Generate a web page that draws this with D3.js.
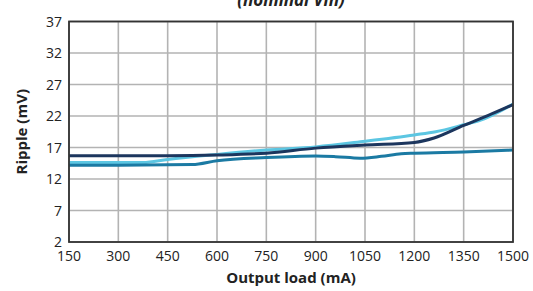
<!DOCTYPE html>
<html>
<head>
<meta charset="utf-8">
<script src="https://cdn.jsdelivr.net/npm/d3@7"></script>
<style>
  body { margin: 0; background: #fff; }
  text { font-family: "Open Sans", sans-serif; fill: #222; }
</style>
</head>
<body>
<script>
var W = 533, H = 291;
var margin = {top: 21.5, right: 20, bottom: 49, left: 69};

// data (mA -> mV)
var loadNavy  = [150, 300, 450, 600, 750, 900, 1050, 1200, 1260, 1350, 1425, 1500];
var rippleNavy = [15.7, 15.7, 15.7, 15.8, 16.1, 16.9, 17.4, 17.8, 18.5, 20.5, 22.1, 23.8];

var loadCyan  = [150, 375, 450, 600, 750, 900, 1050, 1200, 1265, 1350, 1400, 1500];
var rippleCyan = [14.6, 14.6, 15.1, 15.9, 16.6, 17.1, 18.0, 19.0, 19.5, 20.6, 21.3, 23.9];

var loadTeal  = [150, 300, 525, 600, 750, 900, 960, 1035, 1100, 1160, 1200, 1350, 1500];
var rippleTeal = [14.2, 14.2, 14.3, 14.9, 15.4, 15.65, 15.55, 15.3, 15.6, 16.0, 16.1, 16.3, 16.6];

var xTicks = [150, 300, 450, 600, 750, 900, 1050, 1200, 1350, 1500];
var yTicks = [2, 7, 12, 17, 22, 27, 32, 37];

var series = [
  {name: "cyan", color: "#5cc6e2", x: loadCyan, y: rippleCyan},
  {name: "teal", color: "#1b7aa3", x: loadTeal, y: rippleTeal},
  {name: "navy", color: "#1c365e", x: loadNavy, y: rippleNavy}
];

var svg = d3.select("body").append("svg")
    .attr("width", W)
    .attr("height", H);

var x = d3.scaleLinear().domain([150, 1500]).range([margin.left, W - margin.right]);
var y = d3.scaleLinear().domain([2, 37]).range([H - margin.bottom, margin.top]);

// grid
svg.append("g")
  .selectAll("line.vg")
  .data(xTicks)
  .enter().append("line")
    .attr("x1", function(d) { return x(d); })
    .attr("x2", function(d) { return x(d); })
    .attr("y1", y(2))
    .attr("y2", y(37))
    .style("stroke", "#b3b3b3")
    .style("stroke-width", 1.6);

svg.append("g")
  .selectAll("line.hg")
  .data(yTicks)
  .enter().append("line")
    .attr("x1", x(150))
    .attr("x2", x(1500))
    .attr("y1", function(d) { return y(d); })
    .attr("y2", function(d) { return y(d); })
    .style("stroke", "#b3b3b3")
    .style("stroke-width", 1.6);

// lines
var line = d3.line()
  .x(function(d) { return x(d[0]); })
  .y(function(d) { return y(d[1]); })
  .curve(d3.curveMonotoneX);

svg.append("g")
  .selectAll("path")
  .data(series)
  .enter().append("path")
    .attr("d", function(s) { return line(d3.zip(s.x, s.y)); })
    .style("fill", "none")
    .style("stroke", function(s) { return s.color; })
    .style("stroke-width", 3);

// frame
svg.append("rect")
  .attr("x", x(150))
  .attr("y", y(37))
  .attr("width", x(1500) - x(150))
  .attr("height", y(2) - y(37))
  .style("fill", "none")
  .style("stroke", "#333")
  .style("stroke-width", 1.8);

// tick labels
svg.append("g")
  .selectAll("text")
  .data(xTicks)
  .enter().append("text")
    .attr("x", function(d) { return x(d); })
    .attr("y", 260.5)
    .attr("text-anchor", "middle")
    .style("font-size", "14px")
    .text(function(d) { return d; });

svg.append("g")
  .selectAll("text")
  .data(yTicks)
  .enter().append("text")
    .attr("x", 62)
    .attr("y", function(d) { return y(d) + 5; })
    .attr("text-anchor", "end")
    .style("font-size", "14px")
    .text(function(d) { return d; });

// axis titles
svg.append("text")
  .attr("x", (x(150) + x(1500)) / 2)
  .attr("y", 283)
  .attr("text-anchor", "middle")
  .style("font-size", "15px")
  .style("font-weight", "bold")
  .text("Output load (mA)");

svg.append("text")
  .attr("transform", "translate(27," + (y(2) + y(37)) / 2 + ") rotate(-90)")
  .attr("text-anchor", "middle")
  .style("font-size", "15px")
  .style("font-weight", "bold")
  .text("Ripple (mV)");

// title, cut off at the top
svg.append("text")
  .attr("x", (x(150) + x(1500)) / 2)
  .attr("y", 5.5)
  .attr("text-anchor", "middle")
  .style("font-size", "17px")
  .style("font-weight", "bold")
  .style("font-style", "italic")
  .text("(nominal Vin)");
</script>
</body>
</html>
